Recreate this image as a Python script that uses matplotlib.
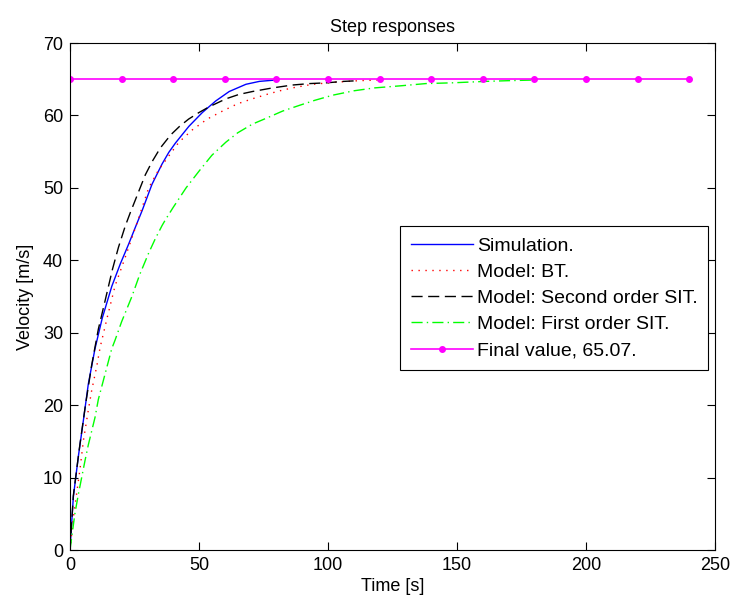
import matplotlib
matplotlib.use("Agg")
import matplotlib.pyplot as plt

# ---- data ----
sim_t = [0, 1.3, 3.2, 5.2, 7.1, 9.7, 12.5, 16.2, 19.5, 22.7, 25.5, 27.9, 31.8, 35.7, 38.3,
         40.9, 46.1, 51.3, 56.5, 61.7, 68.2, 73.4, 80]
sim_v = [0, 7.3, 12.8, 17.9, 22.9, 27.8, 32.0, 36.4, 39.5, 42.2, 44.7, 46.8, 50.5, 53.3, 54.9,
         56.2, 58.5, 60.4, 62.0, 63.3, 64.3, 64.7, 64.9]

bt_t = [0, 1.5, 3.9, 5.2, 7.1, 8.4, 10.4, 11.7, 14.5, 17.5, 21.5, 26.6, 30.5, 34.4, 38.3,
        42.2, 47.4, 53.2, 59.1, 64.9, 70.7, 77.2, 82.4, 87.6, 94.1, 103.2, 112, 121]
bt_v = [0, 5.0, 11.2, 15.1, 19.3, 22.0, 25.4, 28.0, 32.2, 36.5, 40.5, 45.8, 50.0, 52.5, 54.4,
        56.3, 58.0, 59.5, 60.6, 61.6, 62.3, 63.0, 63.5, 63.9, 64.3, 64.6, 64.8, 64.9]

so_t = [0, 1.3, 3.9, 6, 8.4, 11, 13.6, 16.5, 18.8, 21.4, 23.4, 25.3, 29.2, 31.8, 35, 39,
        42.5, 46, 50, 54, 60.5, 65.5, 70.7, 78.5, 86.3, 93, 99.3, 106, 112]
so_v = [0, 7.5, 14.7, 20.0, 25.5, 30.5, 34.4, 38.8, 41.8, 44.7, 46.6, 48.3, 51.8, 53.6, 55.5, 57.3,
        58.5, 59.5, 60.4, 61.2, 62.3, 62.9, 63.3, 63.8, 64.2, 64.4, 64.5, 64.7, 64.8]

fo_t = [0, 1.9, 3.2, 5.8, 7.1, 9.7, 11, 13.6, 16.2, 17.5, 20, 24, 27, 30.5, 33.1, 35.7, 37,
        40, 45, 50, 55, 60.4, 65, 70.7, 76, 82.4, 89, 95, 101.9, 110, 118, 128.5, 138, 148,
        161, 170, 181]
fo_v = [0, 5.0, 7.6, 12.3, 14.5, 18.3, 20.8, 24.3, 27.8, 29.0, 31.5, 35.0, 38.0, 41.0, 43.0, 44.8, 45.6,
        47.3, 50.0, 52.3, 54.5, 56.3, 57.6, 58.8, 59.6, 60.6, 61.4, 62.1, 62.8, 63.4, 63.8, 64.1, 64.4, 64.5,
        64.7, 64.8, 64.9]

final_value = 65.07
final_t = [0, 20, 40, 60, 80, 100, 120, 140, 160, 180, 200, 220, 240]
final_v = [final_value] * len(final_t)

labels = ["Simulation.", "Model: BT.", "Model: Second order SIT.",
          "Model: First order SIT.", "Final value, 65.07."]

plt.rcParams['font.family'] = ['Liberation Sans', 'DejaVu Sans']

fig = plt.figure(figsize=(7.35, 6.04), dpi=100)
ax = fig.add_axes([0.0952, 0.0894, 0.8776, 0.8394])

ax.plot(sim_t, sim_v, color=(0, 0, 1), lw=1.0, label=labels[0])
ax.plot(bt_t, bt_v, color=(1, 0, 0), lw=1.0, dashes=(1, 4), label=labels[1])
ax.plot(so_t, so_v, color='black', lw=1.0, dashes=(8, 4), label=labels[2])
ax.plot(fo_t, fo_v, color=(0, 1, 0), lw=1.0, dashes=(8, 3, 1, 3), label=labels[3])
ax.plot(final_t, final_v, color=(1, 0, 1), lw=1.2, marker='.', markersize=8, label=labels[4])

ax.set_xlim(0, 250)
ax.set_ylim(0, 70)
ax.set_xticks([0, 50, 100, 150, 200, 250])
ax.set_yticks([0, 10, 20, 30, 40, 50, 60, 70])
ax.tick_params(direction='in', top=True, right=True, length=6, width=0.8, labelsize=13, pad=5)
for s in ax.spines.values():
    s.set_linewidth(0.8)

ax.set_title("Step responses", fontsize=13, pad=8)
ax.set_xlabel("Time [s]", fontsize=13, labelpad=3)
ax.set_ylabel("Velocity [m/s]", fontsize=13, labelpad=6)

leg = ax.legend(loc='center right', bbox_to_anchor=(0.9896, 0.4966), fontsize=14,
                frameon=True, fancybox=False, edgecolor='black', framealpha=1,
                handlelength=3.2, handletextpad=0.2, labelspacing=0.44, borderpad=0.55,
                borderaxespad=0)
leg.get_frame().set_linewidth(0.8)

fig.savefig("out.png", dpi=100)
